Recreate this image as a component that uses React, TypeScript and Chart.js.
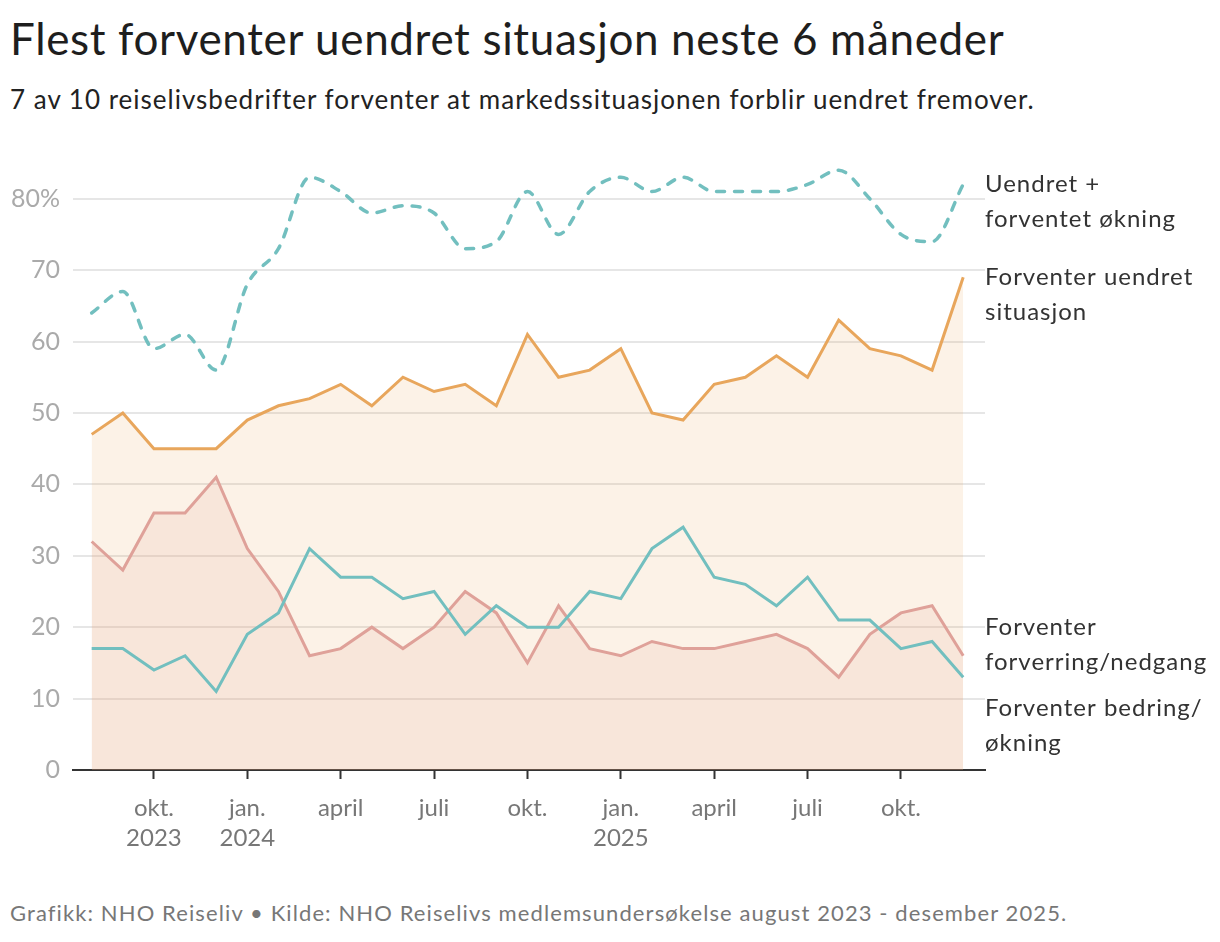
import React, { useEffect, useRef } from 'react';
import { Chart, registerables } from 'chart.js';

Chart.register(...registerables);

// months from aug. 2023 to des. 2025 (index 0..28)
const months = [
  '2023-08', '2023-09', '2023-10', '2023-11', '2023-12',
  '2024-01', '2024-02', '2024-03', '2024-04', '2024-05', '2024-06',
  '2024-07', '2024-08', '2024-09', '2024-10', '2024-11', '2024-12',
  '2025-01', '2025-02', '2025-03', '2025-04', '2025-05', '2025-06',
  '2025-07', '2025-08', '2025-09', '2025-10', '2025-11', '2025-12',
];

const uendretOgOkning = [64, 67, 59, 61, 56, 68, 73, 83, 81, 78, 79, 78, 73, 74, 81, 75, 81, 83, 81, 83, 81, 81, 81, 82, 84, 80, 75, 74, 82];
const uendret = [47, 50, 45, 45, 45, 49, 51, 52, 54, 51, 55, 53, 54, 51, 61, 55, 56, 59, 50, 49, 54, 55, 58, 55, 63, 59, 58, 56, 69];
const forverring = [32, 28, 36, 36, 41, 31, 25, 16, 17, 20, 17, 20, 25, 22, 15, 23, 17, 16, 18, 17, 17, 18, 19, 17, 13, 19, 22, 23, 16];
const bedring = [17, 17, 14, 16, 11, 19, 22, 31, 27, 27, 24, 25, 19, 23, 20, 20, 25, 24, 31, 34, 27, 26, 23, 27, 21, 21, 17, 18, 13];

const xTickIdx = [2, 5, 8, 11, 14, 17, 20, 23, 26];
const xTickLabels = [['okt.', '2023'], ['jan.', '2024'], 'april', 'juli', 'okt.', ['jan.', '2025'], 'april', 'juli', 'okt.'];
const yTicks = [0, 10, 20, 30, 40, 50, 60, 70, 80];

// right-hand labels, anchored at a value on the y scale
const endLabels = [
  { lines: ['Uendret +', 'forventet økning'], at: 82 },
  { lines: ['Forventer uendret', 'situasjon'], at: 69 },
  { lines: ['Forventer', 'forverring/nedgang'], at: 20 },
  { lines: ['Forventer bedring/', 'økning'], at: 8.7 },
];

const TEAL = '#72bfbf';
const ORANGE = '#e8a65c';
const PINK = '#dfa199';
const FONT = 'Lato, "Open Sans", sans-serif';

const endLabelPlugin = {
  id: 'endLabels',
  afterDatasetsDraw(chart: any) {
    const { ctx, chartArea, scales } = chart;
    ctx.save();
    ctx.font = `24px ${FONT}`;
    ctx.letterSpacing = '1px';
    ctx.fillStyle = '#333';
    ctx.textAlign = 'left';
    ctx.textBaseline = 'middle';
    endLabels.forEach((l) => {
      const y0 = scales.y.getPixelForValue(l.at);
      l.lines.forEach((t, i) => ctx.fillText(t, chartArea.right, y0 + i * 35));
    });
    ctx.restore();
  },
};

const App: React.FC = () => {
  const chartRef = useRef<HTMLCanvasElement>(null);
  const chartInstance = useRef<Chart | null>(null);

  useEffect(() => {
    if (!chartRef.current) return;
    if (chartInstance.current) chartInstance.current.destroy();
    const ctx = chartRef.current.getContext('2d');
    if (!ctx) return;

    const toXY = (arr: number[]) => arr.map((v, i) => ({ x: i, y: v }));

    chartInstance.current = new Chart(ctx, {
      type: 'line',
      data: {
        datasets: [
          {
            label: 'Uendret + forventet økning',
            data: toXY(uendretOgOkning),
            borderColor: TEAL,
            borderWidth: 3.5,
            borderDash: [8, 10],
            borderCapStyle: 'round',
            cubicInterpolationMode: 'monotone',
            pointRadius: 0,
            fill: false,
          },
          {
            label: 'Forventer bedring/økning',
            data: toXY(bedring),
            borderColor: TEAL,
            borderWidth: 3,
            pointRadius: 0,
            fill: false,
          },
          {
            label: 'Forventer uendret situasjon',
            data: toXY(uendret),
            borderColor: ORANGE,
            borderWidth: 3,
            pointRadius: 0,
            fill: 'origin',
            backgroundColor: 'rgba(232,166,92,0.15)',
          },
          {
            label: 'Forventer forverring/nedgang',
            data: toXY(forverring),
            borderColor: PINK,
            borderWidth: 3,
            pointRadius: 0,
            fill: 'origin',
            backgroundColor: 'rgba(223,161,153,0.16)',
          },
        ],
      },
      options: {
        responsive: false,
        animation: false,
        layout: { padding: { top: 23, right: 235, bottom: 0, left: 0 } },
        plugins: {
          legend: { display: false },
          tooltip: { enabled: false },
          filler: { drawTime: 'beforeDatasetsDraw' },
        },
        scales: {
          x: {
            type: 'linear',
            min: -0.6,
            max: 28.7,
            afterBuildTicks: (scale: any) => {
              scale.ticks = xTickIdx.map((v) => ({ value: v }));
            },
            afterFit: (scale: any) => {
              scale.height = 90;
            },
            ticks: {
              autoSkip: false,
              maxRotation: 0,
              padding: 14,
              color: '#777',
              font: { family: FONT, size: 24, lineHeight: '30px' },
              callback: (v: any) => {
                const i = xTickIdx.indexOf(Number(v));
                return i >= 0 ? xTickLabels[i] : '';
              },
            },
            grid: {
              drawOnChartArea: false,
              drawTicks: true,
              tickLength: 9,
              tickWidth: 2,
              tickColor: '#333',
            },
            border: { display: true, color: '#333', width: 2 },
          },
          y: {
            min: 0,
            max: 85,
            afterBuildTicks: (scale: any) => {
              scale.ticks = yTicks.map((v) => ({ value: v }));
            },
            afterFit: (scale: any) => {
              scale.width = 73;
            },
            ticks: {
              padding: 0,
              color: '#aaa',
              font: { family: FONT, size: 25 },
              callback: (v: any) => (Number(v) === 80 ? '80%' : String(v)),
            },
            grid: {
              drawTicks: true,
              tickLength: 13,
              tickColor: 'rgba(0,0,0,0)',
              color: '#e6e6e6',
              lineWidth: 2,
            },
            border: { display: false },
          },
        },
      },
      plugins: [endLabelPlugin],
    });

    return () => {
      if (chartInstance.current) {
        chartInstance.current.destroy();
        chartInstance.current = null;
      }
    };
  }, []);

  return (
    <div style={{ position: 'absolute', left: 0, top: 0, width: 1220, height: 942, background: '#fff', fontFamily: FONT }}>
      <div style={{ position: 'absolute', left: 10, top: 16, fontSize: 44, lineHeight: '44px', letterSpacing: '0.65px', color: '#1e1e1e', whiteSpace: 'nowrap' }}>
        Flest forventer uendret situasjon neste 6 måneder
      </div>
      <div style={{ position: 'absolute', left: 10, top: 86, fontSize: 26, lineHeight: '26px', letterSpacing: '1px', color: '#222', whiteSpace: 'nowrap' }}>
        7 av 10 reiselivsbedrifter forventer at markedssituasjonen forblir uendret fremover.
      </div>
      <canvas ref={chartRef} width={1220} height={720} style={{ position: 'absolute', left: 0, top: 140 }} />
      <div style={{ position: 'absolute', left: 10, top: 902, fontSize: 22, lineHeight: '22px', letterSpacing: '1.1px', color: '#777', whiteSpace: 'nowrap' }}>
        Grafikk: NHO Reiseliv • Kilde: NHO Reiselivs medlemsundersøkelse august 2023 - desember 2025.
      </div>
    </div>
  );
};

export default App;
